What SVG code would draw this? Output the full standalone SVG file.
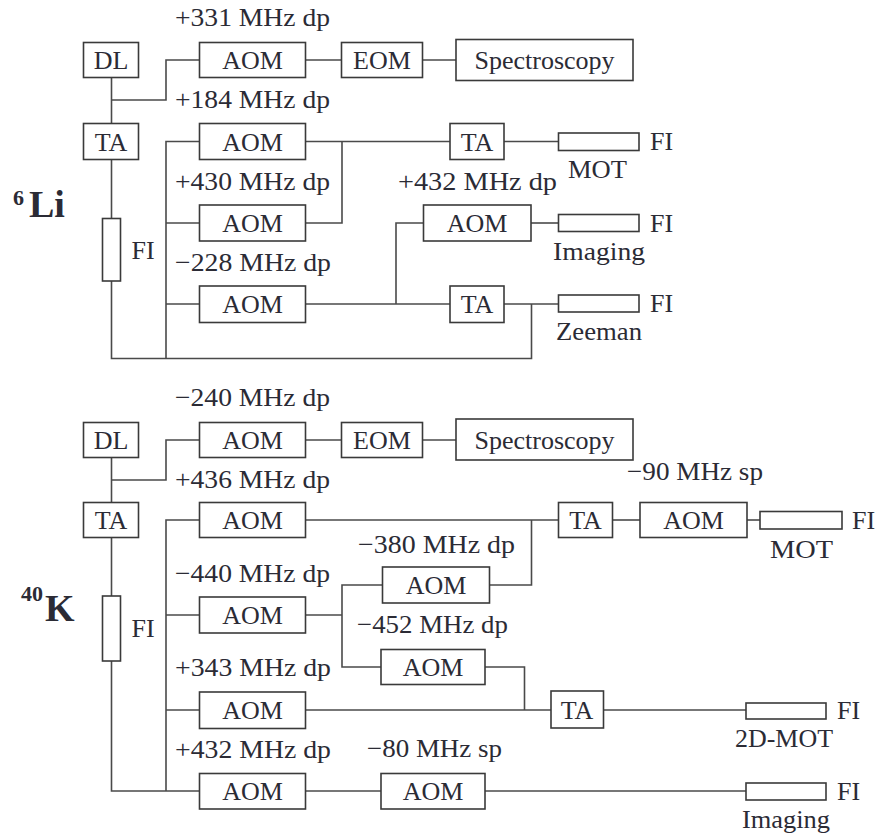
<svg xmlns="http://www.w3.org/2000/svg" width="881" height="837" viewBox="0 0 881 837">
<style>
rect{fill:#fff;stroke:#3a3a3a;stroke-width:1.6}
.c path{fill:none;stroke:#4a4a4a;stroke-width:1.6}
text{font-family:'Liberation Serif','Times New Roman',serif;font-size:26px;fill:#2b2b35}
.m{text-anchor:middle}
.big{font-weight:bold;font-size:38px}
.sup{font-weight:bold;font-size:22px}
</style>
<rect x="0" y="0" width="881" height="837" style="stroke:none"/>
<g class="c" id="connectors">
<path d="M111.5 77.5V123.5"/>
<path d="M111.5 100H166V60H199.5"/>
<path d="M305.5 60H341.5"/>
<path d="M422.5 60H456"/>
<path d="M111.5 159.5V218.5"/>
<path d="M111.5 281V358.5H531.5V304"/>
<path d="M199.5 141.5H166V358.5"/>
<path d="M166 223H199.5"/>
<path d="M166 304H199.5"/>
<path d="M305.5 141.5H450"/>
<path d="M305.5 223H342V141.5"/>
<path d="M504 141.5H558.5"/>
<path d="M305.5 304H450"/>
<path d="M396 304V223H423.5"/>
<path d="M531 223H558.5"/>
<path d="M504 304H558.5"/>
<path d="M111.5 457.5V502.5"/>
<path d="M111.5 480H166V440H199.5"/>
<path d="M305.5 440H341.5"/>
<path d="M422.5 440H456"/>
<path d="M111.5 537.5V596"/>
<path d="M111.5 661V791H199.5"/>
<path d="M199.5 520H166V791"/>
<path d="M166 615H199.5"/>
<path d="M166 710H199.5"/>
<path d="M305.5 520H558.5"/>
<path d="M489.5 585H531.5V520"/>
<path d="M305.5 615H342"/>
<path d="M382.5 585H342V667H381"/>
<path d="M485 667H524.5V710"/>
<path d="M305.5 710H551"/>
<path d="M612.5 520H640"/>
<path d="M747 520H760"/>
<path d="M603.5 710H746"/>
<path d="M305.5 791H381"/>
<path d="M485 791H746"/>
</g>
<g id="li-label"><text x="13" y="205" class="sup">6</text><text x="29" y="217" class="big">Li</text></g>
<g id="li-dl"><rect x="83.5" y="42.5" width="55" height="35"/><text x="111" y="69" class="m">DL</text></g>
<g id="li-aom0"><rect x="199.5" y="42.5" width="106" height="35"/><text x="252.5" y="69" class="m">AOM</text></g>
<g id="li-eom"><rect x="341.5" y="42.5" width="81" height="35"/><text x="382" y="69" class="m">EOM</text></g>
<g id="li-spec"><rect x="456" y="39.5" width="177" height="41"/><text x="544.5" y="69" class="m">Spectroscopy</text></g>
<g id="li-ta0"><rect x="83.5" y="123.5" width="55" height="36"/><text x="111" y="150.5" class="m">TA</text></g>
<g id="li-aom1"><rect x="199.5" y="123.5" width="106" height="36"/><text x="252.5" y="150.5" class="m">AOM</text></g>
<g id="li-ta1"><rect x="450" y="123.5" width="54" height="36"/><text x="477" y="150.5" class="m">TA</text></g>
<g id="li-fi-mot"><rect x="558.5" y="133" width="80.5" height="17.5"/><text x="650" y="150">FI</text><text x="568" y="178" textLength="59" lengthAdjust="spacingAndGlyphs">MOT</text></g>
<g id="li-aom2"><rect x="199.5" y="205" width="106" height="36"/><text x="252.5" y="232" class="m">AOM</text></g>
<g id="li-aom3"><rect x="423.5" y="205" width="107.5" height="36"/><text x="477" y="232" class="m">AOM</text></g>
<g id="li-fi-img"><rect x="558.5" y="214.5" width="80.5" height="17"/><text x="650" y="231.5">FI</text><text x="553" y="260" textLength="92" lengthAdjust="spacingAndGlyphs">Imaging</text></g>
<g id="li-fi"><rect x="102.5" y="218.5" width="18" height="62.5"/><text x="131.5" y="259">FI</text></g>
<g id="li-aom4"><rect x="199.5" y="286" width="106" height="36.5"/><text x="252.5" y="313" class="m">AOM</text></g>
<g id="li-ta2"><rect x="450" y="286" width="54" height="36.5"/><text x="477" y="313" class="m">TA</text></g>
<g id="li-fi-z"><rect x="558.5" y="295" width="80.5" height="17"/><text x="650" y="311.5">FI</text><text x="556" y="340" textLength="86" lengthAdjust="spacingAndGlyphs">Zeeman</text></g>
<g id="li-freq">
<text x="175" y="26" textLength="155" lengthAdjust="spacingAndGlyphs">+331 MHz dp</text>
<text x="175" y="108" textLength="155" lengthAdjust="spacingAndGlyphs">+184 MHz dp</text>
<text x="175" y="190" textLength="155" lengthAdjust="spacingAndGlyphs">+430 MHz dp</text>
<text x="398" y="190" textLength="159" lengthAdjust="spacingAndGlyphs">+432 MHz dp</text>
<text x="175" y="270.5" textLength="156" lengthAdjust="spacingAndGlyphs">−228 MHz dp</text>
</g>
<g id="k-label"><text x="21" y="601" class="sup">40</text><text x="45" y="621" class="big">K</text></g>
<g id="k-dl"><rect x="83.5" y="422.5" width="55" height="35"/><text x="111" y="449" class="m">DL</text></g>
<g id="k-aom0"><rect x="199.5" y="422.5" width="106" height="35"/><text x="252.5" y="449" class="m">AOM</text></g>
<g id="k-eom"><rect x="341.5" y="422.5" width="81" height="35"/><text x="382" y="449" class="m">EOM</text></g>
<g id="k-spec"><rect x="456" y="419" width="177" height="41"/><text x="544.5" y="449" class="m">Spectroscopy</text></g>
<g id="k-ta0"><rect x="83.5" y="502.5" width="55" height="35"/><text x="111" y="529" class="m">TA</text></g>
<g id="k-aom1"><rect x="199.5" y="502.5" width="106" height="35"/><text x="252.5" y="529" class="m">AOM</text></g>
<g id="k-ta1"><rect x="558.5" y="502.5" width="54" height="35"/><text x="585.5" y="529" class="m">TA</text></g>
<g id="k-aom2"><rect x="640" y="502.5" width="107" height="35"/><text x="693.5" y="529" class="m">AOM</text></g>
<g id="k-fi-mot"><rect x="760" y="511.5" width="82" height="17.5"/><text x="852" y="529">FI</text><text x="770" y="558" textLength="63" lengthAdjust="spacingAndGlyphs">MOT</text></g>
<g id="k-aom3"><rect x="382.5" y="567" width="107" height="36"/><text x="436" y="594" class="m">AOM</text></g>
<g id="k-aom4"><rect x="199.5" y="597" width="106" height="36"/><text x="252.5" y="624" class="m">AOM</text></g>
<g id="k-fi"><rect x="102.5" y="596" width="18" height="65"/><text x="131.5" y="637">FI</text></g>
<g id="k-aom5"><rect x="381" y="649.5" width="104" height="35"/><text x="433" y="676" class="m">AOM</text></g>
<g id="k-aom6"><rect x="199.5" y="692" width="106" height="36.5"/><text x="252.5" y="719" class="m">AOM</text></g>
<g id="k-ta2"><rect x="551" y="691" width="52.5" height="37"/><text x="577" y="718.5" class="m">TA</text></g>
<g id="k-fi-2d"><rect x="746" y="703" width="80" height="16"/><text x="837" y="719">FI</text><text x="735" y="747" textLength="98" lengthAdjust="spacingAndGlyphs">2D-MOT</text></g>
<g id="k-aom7"><rect x="199.5" y="773.5" width="106" height="35.5"/><text x="252.5" y="800" class="m">AOM</text></g>
<g id="k-aom8"><rect x="381" y="773.5" width="104" height="35.5"/><text x="433" y="800" class="m">AOM</text></g>
<g id="k-fi-img"><rect x="746" y="783" width="80" height="17"/><text x="837" y="800">FI</text><text x="742" y="828" textLength="88" lengthAdjust="spacingAndGlyphs">Imaging</text></g>
<g id="k-freq">
<text x="175" y="406" textLength="155" lengthAdjust="spacingAndGlyphs">−240 MHz dp</text>
<text x="175" y="488" textLength="155" lengthAdjust="spacingAndGlyphs">+436 MHz dp</text>
<text x="627" y="480" textLength="136" lengthAdjust="spacingAndGlyphs">−90 MHz sp</text>
<text x="358" y="553" textLength="157" lengthAdjust="spacingAndGlyphs">−380 MHz dp</text>
<text x="175" y="581.5" textLength="155" lengthAdjust="spacingAndGlyphs">−440 MHz dp</text>
<text x="357" y="633" textLength="151" lengthAdjust="spacingAndGlyphs">−452 MHz dp</text>
<text x="175" y="676" textLength="156" lengthAdjust="spacingAndGlyphs">+343 MHz dp</text>
<text x="175" y="758" textLength="156" lengthAdjust="spacingAndGlyphs">+432 MHz dp</text>
<text x="367" y="757" textLength="135" lengthAdjust="spacingAndGlyphs">−80 MHz sp</text>
</g>
</svg>
